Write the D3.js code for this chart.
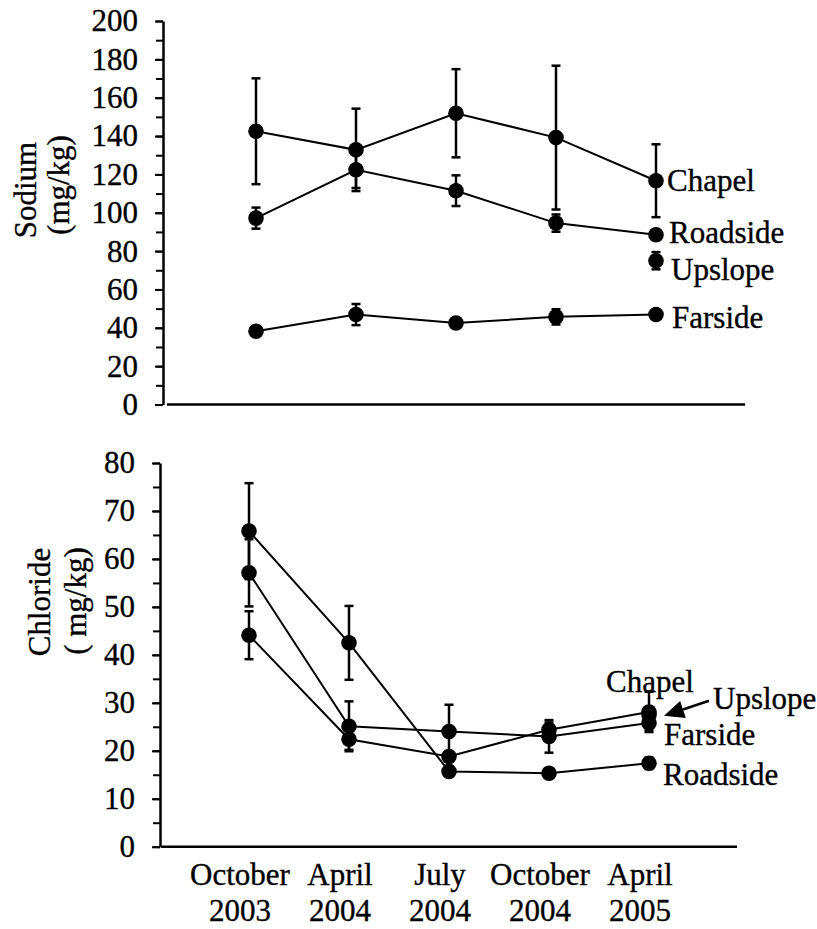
<!DOCTYPE html>
<html>
<head>
<meta charset="utf-8">
<script src="https://cdn.jsdelivr.net/npm/d3@7"></script>
<style>
  html, body { margin: 0; padding: 0; background: #fff; }
  svg { display: block; }
  text { font-family: "Liberation Serif", "Times New Roman", serif; fill: #000; stroke: #000; stroke-width: 0.35px; }
</style>
</head>
<body>
<svg id="chart" width="817" height="929"></svg>
<script>
// Sampling dates (two-line category labels)
const months = ["October", "April", "July", "October", "April"];
const years  = ["2003", "2004", "2004", "2004", "2005"];

// Sodium (mg/kg): means and standard errors per site
const sodiumChapel      = [142.5, 132.8, 151.9, 139.2, 116.7];
const sodiumChapelErr   = [27.6, 21.5, 23.0, 37.5, 19.0];
const sodiumRoadside    = [97.2, 122.4, 111.5, 94.6, 88.5];
const sodiumRoadsideErr = [5.5, 9.5, 8.0, 4.5, 1.5];
const sodiumUpslope     = [null, null, null, null, 75.0];
const sodiumUpslopeErr  = [null, null, null, null, 4.5];
const sodiumFarside     = [38.2, 46.9, 42.5, 45.7, 46.9];
const sodiumFarsideErr  = [1.5, 5.5, 1.5, 4.0, 1.5];

// Chloride (mg/kg): means and standard errors per site
const chlorideRoadside    = [65.8, 42.5, 15.7, 15.3, 17.4];
const chlorideRoadsideErr = [10.0, 7.7, 1.0, 1.0, 1.2];
const chlorideFarside     = [57.1, 25.1, 24.0, 23.0, 25.8];
const chlorideFarsideErr  = [7.0, 5.2, 5.6, 3.4, 1.5];
const chlorideChapel      = [44.1, 22.4, 18.8, 24.4, 28.1];
const chlorideChapelErr   = [5.0, 2.2, 1.0, 1.5, 4.2];
const chlorideUpslope     = [null, null, null, null, 27.5];
const chlorideUpslopeErr  = [null, null, null, null, 1.0];

// Axis ticks
const sodiumTicks   = [0, 20, 40, 60, 80, 100, 120, 140, 160, 180, 200];
const chlorideTicks = [0, 10, 20, 30, 40, 50, 60, 70, 80];

const svg = d3.select("#chart");
const cats = months.map((m, i) => m + " " + years[i]);

function series(name, vals, errs) {
  return { name, pts: vals.map((v, i) => ({ c: cats[i], v, e: errs[i] })).filter(p => p.v != null) };
}

function drawPanel(opt) {
  const g = svg.append("g");
  const x = d3.scalePoint().domain(cats).range([opt.xLeft, opt.xRight]).padding(opt.pad);
  const y = d3.scaleLinear().domain([0, opt.max]).range([opt.y0, opt.y1]);

  // minor ticks
  const minor = d3.range(0, opt.max + 0.001, opt.minorStep);
  g.append("g").attr("transform", `translate(${opt.axisX},0)`)
    .call(d3.axisLeft(y).tickValues(minor).tickSize(7).tickSizeOuter(0).tickFormat(""))
    .call(a => a.selectAll("line").attr("stroke", "#000").attr("stroke-width", 2))
    .call(a => a.select(".domain").attr("stroke", "#000").attr("stroke-width", 2.5));
  // major ticks with labels
  g.append("g").attr("transform", `translate(${opt.axisX},0)`)
    .call(d3.axisLeft(y).tickValues(opt.ticks).tickSize(8).tickPadding(17).tickSizeOuter(0))
    .call(a => a.select(".domain").remove())
    .call(a => a.selectAll("line").attr("stroke", "#000").attr("stroke-width", 2))
    .call(a => a.selectAll("text").attr("font-size", 31).attr("font-family", "Liberation Serif").attr("fill", "#000"));

  // x axis line
  g.append("line").attr("x1", opt.xLeft).attr("x2", opt.xRight)
    .attr("y1", opt.y0).attr("y2", opt.y0).attr("stroke", "#000").attr("stroke-width", 2.5);

  const line = d3.line().x(d => x(d.c)).y(d => y(d.v));
  opt.series.forEach(s => {
    if (s.pts.length > 1) {
      g.append("path").attr("d", line(s.pts)).attr("fill", "none")
        .attr("stroke", "#000").attr("stroke-width", 2);
    }
  });
  opt.series.forEach(s => {
    s.pts.forEach(p => {
      if (p.e) {
        const cx = x(p.c);
        g.append("line").attr("x1", cx).attr("x2", cx).attr("y1", y(p.v - p.e)).attr("y2", y(p.v + p.e))
          .attr("stroke", "#000").attr("stroke-width", 2.5);
        [p.v - p.e, p.v + p.e].forEach(b => {
          g.append("line").attr("x1", cx - 4.5).attr("x2", cx + 4.5).attr("y1", y(b)).attr("y2", y(b))
            .attr("stroke", "#000").attr("stroke-width", 2.5);
        });
      }
    });
  });
  opt.series.forEach(s => {
    g.selectAll(null).data(s.pts).join("circle")
      .attr("cx", d => x(d.c)).attr("cy", d => y(d.v)).attr("r", 7.8).attr("fill", "#000");
  });

  // site labels placed next to the last point
  opt.labels.forEach(l => {
    const s = opt.series.find(d => d.name === l.name);
    const last = s.pts[s.pts.length - 1];
    g.append("text").attr("x", x(last.c) + l.dx).attr("y", y(last.v) + l.dy)
      .attr("font-size", 31).text(l.name);
  });

  // y-axis title
  opt.title.forEach(t => {
    g.append("text").attr("transform", `translate(${t.x},${t.y}) rotate(-90)`)
      .attr("text-anchor", "middle").attr("font-size", 31).text(t.text);
  });
  return { g, x, y };
}

// Sodium panel
drawPanel({
  xLeft: 167, xRight: 745, pad: 0.89, axisX: 163, y0: 404.5, y1: 21, max: 200, minorStep: 10,
  ticks: sodiumTicks,
  series: [
    series("Chapel", sodiumChapel, sodiumChapelErr),
    series("Roadside", sodiumRoadside, sodiumRoadsideErr),
    series("Upslope", sodiumUpslope, sodiumUpslopeErr),
    series("Farside", sodiumFarside, sodiumFarsideErr)
  ],
  labels: [
    { name: "Chapel", dx: 11, dy: 10 },
    { name: "Roadside", dx: 13, dy: 8 },
    { name: "Upslope", dx: 15, dy: 19 },
    { name: "Farside", dx: 16, dy: 13 }
  ],
  title: [
    { text: "Sodium", x: 36, y: 190 },
    { text: "(mg/kg)", x: 69, y: 185 }
  ]
});

// Chloride panel
const cl = drawPanel({
  xLeft: 161, xRight: 737, pad: 0.88, axisX: 160, y0: 846.7, y1: 463, max: 80, minorStep: 5,
  ticks: chlorideTicks,
  series: [
    series("Roadside", chlorideRoadside, chlorideRoadsideErr),
    series("Farside", chlorideFarside, chlorideFarsideErr),
    series("Chapel", chlorideChapel, chlorideChapelErr),
    series("Upslope", chlorideUpslope, chlorideUpslopeErr)
  ],
  labels: [
    { name: "Chapel", dx: -43, dy: -20 },
    { name: "Upslope", dx: 64, dy: -6 },
    { name: "Farside", dx: 15, dy: 22 },
    { name: "Roadside", dx: 14, dy: 22 }
  ],
  title: [
    { text: "Chloride", x: 50, y: 602 },
    { text: "( mg/kg)", x: 86, y: 601 }
  ]
});

// arrow from the Upslope label to its point
{
  const px = cl.x(cats[4]), py = cl.y(chlorideUpslope[4]);
  const tip = [px + 15, py + 1];
  const tail = [px + 60, py - 14];
  const ang = Math.atan2(tail[1] - tip[1], tail[0] - tip[0]);
  const L = 20, W = 9;
  const bx = tip[0] + L * Math.cos(ang), by = tip[1] + L * Math.sin(ang);
  cl.g.append("line").attr("x1", bx).attr("y1", by).attr("x2", tail[0]).attr("y2", tail[1])
    .attr("stroke", "#000").attr("stroke-width", 2.5);
  cl.g.append("path")
    .attr("d", `M${tip[0]},${tip[1]} L${bx - W * Math.sin(ang)},${by + W * Math.cos(ang)} L${bx + W * Math.sin(ang)},${by - W * Math.cos(ang)} Z`)
    .attr("fill", "#000");
}

// category labels under the chloride panel
const xl = svg.append("g");
cats.forEach((c, i) => {
  const cx = cl.x(c) - 9;
  xl.append("text").attr("x", cx).attr("y", 885).attr("text-anchor", "middle").attr("font-size", 31).text(months[i]);
  xl.append("text").attr("x", cx).attr("y", 921).attr("text-anchor", "middle").attr("font-size", 31).text(years[i]);
});
</script>
</body>
</html>
